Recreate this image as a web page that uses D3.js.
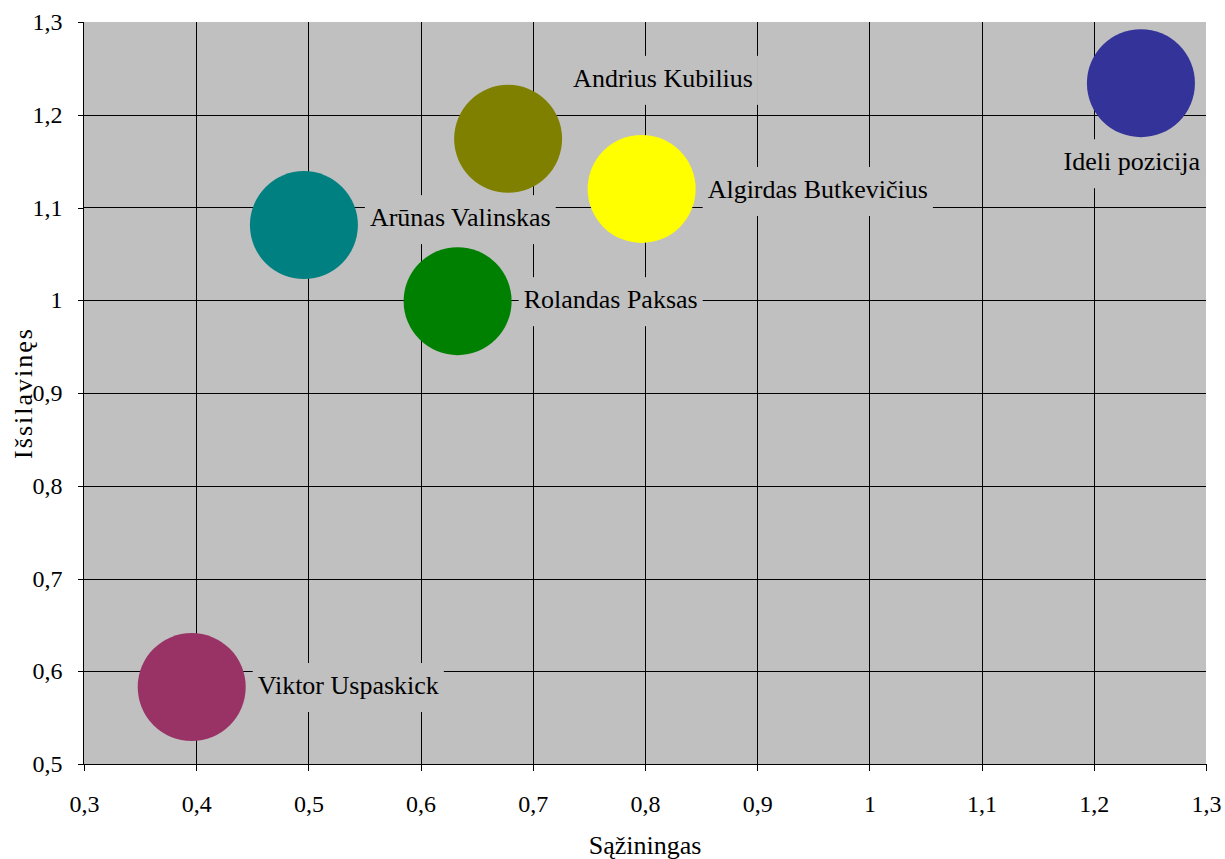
<!DOCTYPE html>
<html>
<head>
<meta charset="utf-8">
<script src="https://cdn.jsdelivr.net/npm/d3@7"></script>
<style>
  html, body { margin: 0; padding: 0; background: #ffffff; }
  svg { display: block; }
</style>
</head>
<body>
<svg id="chart" width="1225" height="859"></svg>
<script>
// Candidates and their positions on the two traits
const names = ["Viktor Uspaskick", "Arūnas Valinskas", "Rolandas Paksas", "Andrius Kubilius", "Algirdas Butkevičius", "Ideli pozicija"];
const sazinigas = [0.396, 0.496, 0.633, 0.678, 0.797, 1.242];
const issilavines = [0.583, 1.081, 0.999, 1.174, 1.120, 1.234];
const bubbleSize = [1, 1, 1, 1, 1, 1];

// Axis ticks
const xTicks = [0.3, 0.4, 0.5, 0.6, 0.7, 0.8, 0.9, 1.0, 1.1, 1.2, 1.3];
const xTickLabels = ["0,3", "0,4", "0,5", "0,6", "0,7", "0,8", "0,9", "1", "1,1", "1,2", "1,3"];
const yTicks = [0.5, 0.6, 0.7, 0.8, 0.9, 1.0, 1.1, 1.2, 1.3];
const yTickLabels = ["0,5", "0,6", "0,7", "0,8", "0,9", "1", "1,1", "1,2", "1,3"];

const xTitle = "Sąžiningas";
const yTitle = "Išsilavinęs";

// Styling
const serif = "Liberation Serif";
const colors = ["#993366", "#008080", "#008000", "#808000", "#FFFF00", "#333399"];
// where each data label sits relative to its bubble
const labelPlacement = [
  { pos: "right", dy: 0 },
  { pos: "right", dy: -6 },
  { pos: "right", dy: 0 },
  { pos: "free", dx: 65, dy: -52 },
  { pos: "right", dy: 2 },
  { pos: "below", dy: 0 }
];

const plot = { left: 84, right: 1206, top: 22, bottom: 764 };
const plotBg = "#C0C0C0";

const svg = d3.select("#chart");

const x = d3.scaleLinear().domain([0.3, 1.3]).range([plot.left, plot.right]);
const y = d3.scaleLinear().domain([0.5, 1.3]).range([plot.bottom, plot.top]);
const r = d3.scaleSqrt().domain([0, 1]).range([0, 54]);

// plot area
svg.append("rect")
  .attr("x", plot.left).attr("y", plot.top)
  .attr("width", plot.right - plot.left).attr("height", plot.bottom - plot.top)
  .attr("fill", plotBg);

// grid
const grid = svg.append("g").attr("shape-rendering", "crispEdges").attr("stroke", "#000").attr("stroke-width", 1);
grid.selectAll("line.v").data(xTicks.slice(1, -1)).join("line")
  .attr("x1", d => Math.round(x(d)) + 0.5).attr("x2", d => Math.round(x(d)) + 0.5)
  .attr("y1", plot.top).attr("y2", plot.bottom);
grid.selectAll("line.h").data(yTicks.slice(1, -1)).join("line")
  .attr("y1", d => Math.round(y(d)) + 0.5).attr("y2", d => Math.round(y(d)) + 0.5)
  .attr("x1", plot.left).attr("x2", plot.right);

// bubbles
const pts = names.map((n, i) => ({
  name: n, sx: sazinigas[i], sy: issilavines[i], s: bubbleSize[i], color: colors[i], place: labelPlacement[i]
}));

svg.append("g").selectAll("circle").data(pts).join("circle")
  .attr("cx", d => x(d.sx)).attr("cy", d => y(d.sy)).attr("r", d => r(d.s))
  .attr("fill", d => d.color);

// data labels with plot-coloured backing boxes
const labelFont = 26;
const labels = svg.append("g");
pts.forEach(d => {
  const cx = x(d.sx), cy = y(d.sy), rad = r(d.s);
  const g = labels.append("g");
  const t = g.append("text")
    .style("font-family", serif)
    .style("font-size", labelFont + "px").attr("fill", "#000")
    .text(d.name);
  const w = t.node().getComputedTextLength();
  const padX = 5;
  let left, baseline;
  if (d.place.pos === "right") {
    left = cx + rad + 7 + padX;
    baseline = cy + 7 + (d.place.dy || 0);
  } else if (d.place.pos === "below") {
    left = cx - w / 2;
    baseline = cy + rad + 33 + (d.place.dy || 0);
  } else {
    left = cx + d.place.dx;
    baseline = cy + d.place.dy;
  }
  // keep the box inside the plot area
  if (left + w + padX > plot.right - 1) left = plot.right - 1 - padX - w;
  t.attr("x", left).attr("y", baseline);
  g.insert("rect", "text")
    .attr("x", left - padX).attr("y", baseline - 31)
    .attr("width", w + 2 * padX).attr("height", 49)
    .attr("fill", plotBg);
});

// axes
const tickFont = 24;
const xAxis = d3.axisBottom(x).tickValues(xTicks).tickSize(6).tickPadding(24)
  .tickFormat((d, i) => xTickLabels[i]);
const yAxis = d3.axisLeft(y).tickValues(yTicks).tickSize(6).tickPadding(15)
  .tickFormat((d, i) => yTickLabels[i]);

const gx = svg.append("g").attr("transform", `translate(0,${plot.bottom + 0.5})`).call(xAxis);
const gy = svg.append("g").attr("transform", `translate(${plot.left - 0.5},0)`).call(yAxis);
[gx, gy].forEach(g => {
  g.attr("font-family", null).attr("font-size", null);
  g.selectAll("path.domain").attr("stroke", "#000").attr("shape-rendering", "crispEdges");
  g.selectAll(".tick line").attr("stroke", "#000").attr("shape-rendering", "crispEdges");
  g.selectAll(".tick text").attr("fill", "#000")
    .style("font-family", serif).style("font-size", tickFont + "px");
});
gx.select("path.domain").attr("d", `M${plot.left},6V0H${plot.right}V6`);
gy.select("path.domain").attr("d", `M-6,${plot.top}H0V${plot.bottom}H-6`);

// axis titles
svg.append("text")
  .attr("x", (plot.left + plot.right) / 2).attr("y", 854)
  .attr("text-anchor", "middle").style("font-family", serif).style("font-size", "26px").attr("fill", "#000")
  .text(xTitle);
svg.append("text")
  .attr("transform", `translate(32,${(plot.top + plot.bottom) / 2}) rotate(-90)`)
  .attr("text-anchor", "middle").style("font-family", serif).style("font-size", "26px")
  .style("letter-spacing", "2px").attr("fill", "#000")
  .text(yTitle);
</script>
</body>
</html>
